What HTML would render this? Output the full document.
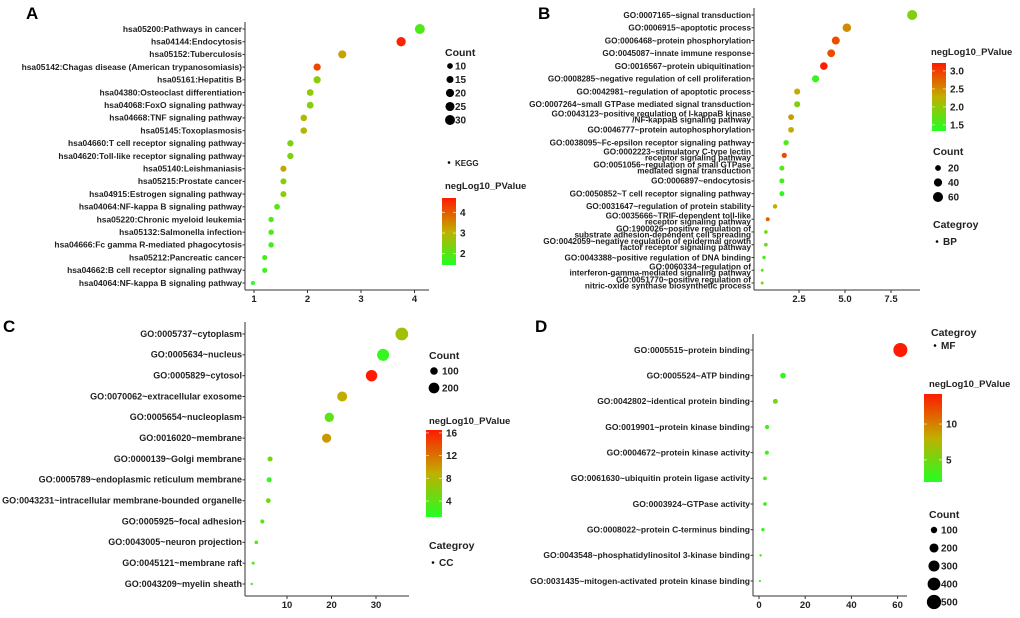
<!DOCTYPE html>
<html><head><meta charset="utf-8">
<style>
html,body{margin:0;padding:0;background:#fff;}
svg{display:block;font-family:"Liberation Sans",Arial,sans-serif;}
</style></head>
<body>
<svg id="fig" width="1020" height="618" viewBox="0 0 1020 618">
<defs>
<linearGradient id="cg" x1="0" y1="1" x2="0" y2="0">
<stop offset="0" stop-color="#22ff22"/><stop offset="0.5" stop-color="#c0b000"/><stop offset="1" stop-color="#ff1a00"/>
</linearGradient>
</defs>
<text x="26" y="19" font-size="17" font-weight="bold">A</text>
<text x="538" y="19" font-size="17" font-weight="bold">B</text>
<text x="3" y="332" font-size="17" font-weight="bold">C</text>
<text x="535" y="332" font-size="17" font-weight="bold">D</text>
</svg>
<script>
// ---- Panel A (KEGG) ----
const aLabels=["hsa05200:Pathways in cancer","hsa04144:Endocytosis","hsa05152:Tuberculosis","hsa05142:Chagas disease (American trypanosomiasis)","hsa05161:Hepatitis B","hsa04380:Osteoclast differentiation","hsa04068:FoxO signaling pathway","hsa04668:TNF signaling pathway","hsa05145:Toxoplasmosis","hsa04660:T cell receptor signaling pathway","hsa04620:Toll-like receptor signaling pathway","hsa05140:Leishmaniasis","hsa05215:Prostate cancer","hsa04915:Estrogen signaling pathway","hsa04064:NF-kappa B signaling pathway","hsa05220:Chronic myeloid leukemia","hsa05132:Salmonella infection","hsa04666:Fc gamma R-mediated phagocytosis","hsa05212:Pancreatic cancer","hsa04662:B cell receptor signaling pathway","hsa04064:NF-kappa B signaling pathway"];
const aX=[4.1,3.75,2.65,2.18,2.18,2.05,2.05,1.93,1.93,1.68,1.68,1.55,1.55,1.55,1.43,1.32,1.32,1.32,1.2,1.2,0.98];
const aCount=[30,26,20,16,16,14,14,13,13,12,12,11,11,11,10,9,9,9,8,8,5];
const aP=[1.9,4.6,3.2,4.2,2.5,2.6,2.5,2.9,2.9,2.4,2.4,3.2,2.5,2.5,2.0,1.9,1.9,1.8,1.8,1.7,1.4];
const aXTicks=[1,2,3,4];
const aCountTicks=[10,15,20,25,30];
const aColTicks=[4,3,2];
// ---- Panel B (BP) ----
const bLabels=["GO:0007165~signal transduction","GO:0006915~apoptotic process","GO:0006468~protein phosphorylation","GO:0045087~innate immune response","GO:0016567~protein ubiquitination","GO:0008285~negative regulation of cell proliferation","GO:0042981~regulation of apoptotic process","GO:0007264~small GTPase mediated signal transduction","GO:0043123~positive regulation of I-kappaB kinase\n/NF-kappaB signaling pathway","GO:0046777~protein autophosphorylation","GO:0038095~Fc-epsilon receptor signaling pathway","GO:0002223~stimulatory C-type lectin\nreceptor signaling pathway","GO:0051056~regulation of small GTPase\nmediated signal transduction","GO:0006897~endocytosis","GO:0050852~T cell receptor signaling pathway","GO:0031647~regulation of protein stability","GO:0035666~TRIF-dependent toll-like\nreceptor signaling pathway","GO:1900026~positive regulation of\nsubstrate adhesion-dependent cell spreading","GO:0042059~negative regulation of epidermal growth\nfactor receptor signaling pathway","GO:0043388~positive regulation of DNA binding","GO:0060334~regulation of\ninterferon-gamma-mediated signaling pathway","GO:0051770~positive regulation of\nnitric-oxide synthase biosynthetic process"];
const bX=[8.65,5.1,4.5,4.25,3.85,3.4,2.4,2.4,2.07,2.07,1.8,1.7,1.57,1.57,1.57,1.2,0.8,0.7,0.7,0.6,0.5,0.5];
const bCount=[60,43,38,36,34,30,22,22,20,20,17,16,15,15,15,12,9,8,8,7,5,5];
const bP=[1.9,2.5,2.9,2.9,3.2,1.5,2.3,1.9,2.4,2.3,1.6,2.9,1.6,1.5,1.4,2.3,2.8,1.8,1.8,1.6,1.7,1.8];
const bXTicks=[2.5,5.0,7.5];
const bCountTicks=[20,40,60];
const bColTicks=[3.0,2.5,2.0,1.5];
// ---- Panel C (CC) ----
const cLabels=["GO:0005737~cytoplasm","GO:0005634~nucleus","GO:0005829~cytosol","GO:0070062~extracellular exosome","GO:0005654~nucleoplasm","GO:0016020~membrane","GO:0000139~Golgi membrane","GO:0005789~endoplasmic reticulum membrane","GO:0043231~intracellular membrane-bounded organelle","GO:0005925~focal adhesion","GO:0043005~neuron projection","GO:0045121~membrane raft","GO:0043209~myelin sheath"];
const cX=[35.8,31.6,29,22.4,19.5,18.9,6.2,6.0,5.8,4.45,3.1,2.4,2.07];
const cCount=[280,250,225,175,150,145,45,45,40,30,22,16,10];
const cP=[7.5,2,16.5,9,4,10,5,2,5,4,3.5,3,3];
const cXTicks=[10,20,30];
const cCountTicks=[100,200];
const cColTicks=[16,12,8,4];
// ---- Panel D (MF) ----
const dLabels=["GO:0005515~protein binding","GO:0005524~ATP binding","GO:0042802~identical protein binding","GO:0019901~protein kinase binding","GO:0004672~protein kinase activity","GO:0061630~ubiquitin protein ligase activity","GO:0003924~GTPase activity","GO:0008022~protein C-terminus binding","GO:0043548~phosphatidylinositol 3-kinase binding","GO:0031435~mitogen-activated protein kinase binding"];
const dX=[61.2,10.4,7.1,3.5,3.4,2.6,2.6,1.7,0.7,0.4];
const dCount=[480,80,60,45,42,35,33,28,15,12];
const dP=[14.2,2.5,5.5,3,3,3.5,3,2.5,3,2.5];
const dXTicks=[0,20,40,60];
const dCountTicks=[100,200,300,400,500];
const dColTicks=[10,5];

const svg=document.getElementById('fig');
const NS="http://www.w3.org/2000/svg";
function mk(tag,attrs,parent){const e=document.createElementNS(NS,tag);for(const k in attrs)e.setAttribute(k,attrs[k]);(parent||svg).appendChild(e);return e;}
function lerp(a,b,t){return a+(b-a)*t;}
function colorOf(v,lo,hi){
  let t=Math.max(0,Math.min(1,(v-lo)/(hi-lo)));
  const s=[[0x22,0xff,0x22],[0xc0,0xb0,0x00],[0xff,0x1a,0x00]];
  let a,b,u;if(t<0.5){a=s[0];b=s[1];u=t/0.5;}else{a=s[1];b=s[2];u=(t-0.5)/0.5;}
  return `rgb(${Math.round(lerp(a[0],b[0],u))},${Math.round(lerp(a[1],b[1],u))},${Math.round(lerp(a[2],b[2],u))})`;
}
function panel(g,labels,xs,counts,ps,xticks,countTicks,colTicks,tickFmt){
  const grp=mk('g',{});
  
  
  const xScale=v=>g.x0+v*g.kx;
  const yScale=i=>g.yTop+i*(g.yBot-g.yTop)/(labels.length-1);
  const rScale=c=>g.kr*Math.sqrt(c);
  const yAxis=mk('line',{x1:g.ax,y1:g.axTop,x2:g.ax,y2:g.axY,stroke:'#333','stroke-width':1},grp);
  
  
  const xAxis=mk('line',{x1:g.ax,y1:g.axY,x2:g.axRight,y2:g.axY,stroke:'#333','stroke-width':1},grp);
  
  
  xticks.forEach(t=>{
    const x=xScale(t);
    mk('line',{x1:x,y1:g.axY,x2:x,y2:g.axY+3,stroke:'#333'},grp);
    const tx=mk('text',{x:x,y:g.axY+12,'font-size':9.5,'font-weight':'bold','text-anchor':'middle',fill:'#222'},grp);
    tx.textContent=tickFmt?tickFmt(t):String(t);
    
    
  });
  labels.forEach((lab,i)=>{
    const y=yScale(i);
    mk('line',{x1:g.ax-2.5,y1:y,x2:g.ax,y2:y,stroke:'#333'},grp);
    const lines=lab.split('\n');
    lines.forEach((ln,j)=>{
      const dy=lines.length>1?(j===0?-3.5:2.5):0;
      const tx=mk('text',{x:g.ax-3,y:y+dy+2.8,'font-size':g.fs,'font-weight':'bold','text-anchor':'end',fill:'#222'},grp);
      tx.textContent=ln;
      
      
    });
    const c=mk('circle',{cx:xScale(xs[i]),cy:y,r:rScale(counts[i]),fill:colorOf(ps[i],g.cLo,g.cHi)},grp);
    
    
  });
  const ct=mk('text',{x:g.cntX,y:g.cntY,'font-size':10.5,'font-weight':'bold',fill:'#222'},grp);
  ct.textContent='Count';
  
  
  countTicks.forEach((c,i)=>{
    const y=g.cntY+g.cntDy0+i*g.cntDy;
    const cc=mk('circle',{cx:g.cntX+5,cy:y,r:rScale(c),fill:'#000'},grp);
    
    
    const t=mk('text',{x:g.cntX+g.cntTx,y:y+3.5,'font-size':10,'font-weight':'bold',fill:'#222'},grp);
    t.textContent=String(c);
    
    
  });
  const nt=mk('text',{x:g.colX,y:g.colTitleY,'font-size':9.5,'font-weight':'bold',fill:'#222'},grp);
  nt.textContent='negLog10_PValue';
  
  
  const bar=mk('rect',{x:g.barX,y:g.barTop,width:g.barW,height:g.barBot-g.barTop,fill:'url(#cg)'},grp);
  
  
  colTicks.forEach(v=>{
    const y=g.barBot-(v-g.cLo)/(g.cHi-g.cLo)*(g.barBot-g.barTop);
    mk('line',{x1:g.barX,y1:y,x2:g.barX+3,y2:y,stroke:'#fff','stroke-opacity':0.6},grp);
    mk('line',{x1:g.barX+g.barW-3,y1:y,x2:g.barX+g.barW,y2:y,stroke:'#fff','stroke-opacity':0.6},grp);
    const t=mk('text',{x:g.barX+g.barW+4,y:y+3.5,'font-size':10,'font-weight':'bold',fill:'#222'},grp);
    t.textContent=tickFmt===fmt1?v.toFixed(1):String(v);
    
    
  });
  if(g.catTitle){
    const t=mk('text',{x:g.catX,y:g.catY,'font-size':10.5,'font-weight':'bold',fill:'#222'},grp);
    t.textContent='Categroy';
    
    
  }
  mk('circle',{cx:g.catX+4,cy:g.catItemY-3.5,r:1.3,fill:'#000'},grp);
  const ci=mk('text',{x:g.catX+10,y:g.catItemY,'font-size':g.catFs,'font-weight':'bold',fill:'#222'},grp);
  ci.textContent=g.cat;
  
  
}
function fmt1(v){return v.toFixed(1);}

panel({name:'panel-a-kegg',x0:200.5,kx:53.5,yTop:29,yBot:283,kr:0.91,ax:245,axTop:22,axY:290,axRight:429,fs:8.45,cLo:1.45,cHi:4.7,
  cntX:445,cntY:56,cntDy0:10,cntDy:13.5,cntTx:10,colX:445,colTitleY:189,barX:442,barW:14,barTop:198,barBot:265,
  catTitle:false,catX:445,catItemY:166,cat:'KEGG',catFs:8},aLabels,aX,aCount,aP,aXTicks,aCountTicks,aColTicks);
panel({name:'panel-b-bp',x0:753,kx:18.4,yTop:15,yBot:283,kr:0.65,ax:754,axTop:8,axY:290,axRight:920,fs:8.2,cLo:1.33,cHi:3.22,
  cntX:933,cntY:155,cntDy0:13,cntDy:14.5,cntTx:15,colX:931,colTitleY:55,barX:932,barW:14,barTop:63,barBot:131,
  catTitle:true,catX:933,catY:228,catItemY:245,cat:'BP',catFs:10},bLabels,bX,bCount,bP,bXTicks,bCountTicks,bColTicks,fmt1);
panel({name:'panel-c-cc',x0:242.5,kx:4.45,yTop:334,yBot:584,kr:0.38,ax:245,axTop:322,axY:596,axRight:409,fs:9,cLo:1.2,cHi:16.5,
  cntX:429,cntY:359,cntDy0:12,cntDy:17,cntTx:13,colX:429,colTitleY:424,barX:426,barW:16,barTop:430,barBot:517,
  catTitle:true,catX:429,catY:549,catItemY:566,cat:'CC',catFs:10},cLabels,cX,cCount,cP,cXTicks,cCountTicks,cColTicks);
panel({name:'panel-d-mf',x0:759,kx:2.31,yTop:350,yBot:581,kr:0.32,ax:753,axTop:334,axY:596,axRight:907,fs:8.5,cLo:1.9,cHi:14.2,
  cntX:929,cntY:518,cntDy0:12,cntDy:18,cntTx:12,colX:929,colTitleY:387,barX:924,barW:18,barTop:394,barBot:482,
  catTitle:true,catX:931,catY:336,catItemY:349,cat:'MF',catFs:10},dLabels,dX,dCount,dP,dXTicks,dCountTicks,dColTicks);
</script>
</body></html>
